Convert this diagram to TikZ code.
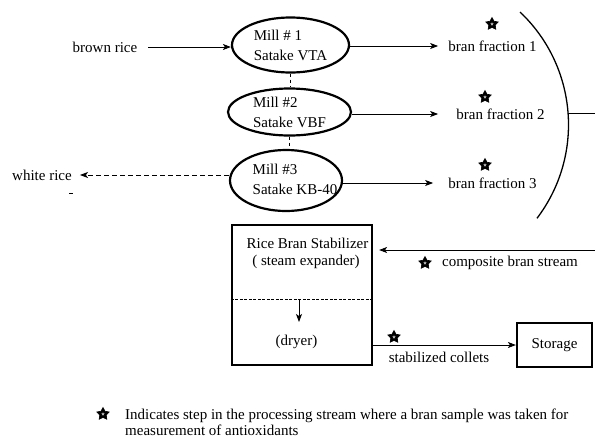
\documentclass[tikz,border=0pt]{standalone}
\usepackage{fontspec}
\setmainfont{Liberation Serif}
\usetikzlibrary{shapes.geometric,arrows.meta}
\begin{document}
\begin{tikzpicture}[x=1pt,y=-1pt,font=\fontsize{15}{20}\selectfont,
  mill/.style={draw, ellipse, line width=2.2pt, inner sep=0pt, align=left},
  lbl/.style={inner sep=0pt},
  arr/.style={line width=0.9pt, -{Stealth[length=8pt,width=6pt,inset=2pt]}},
  boxy/.style={draw, line width=2.2pt, rectangle, inner sep=0pt},
  starmark/.style={star, star points=5, star point ratio=1.9, draw=black, line width=0.6pt, fill=black, inner sep=0pt, minimum size=13pt},
  starhole/.style={star, star points=5, star point ratio=1.9, fill=gray!60, inner sep=0pt, minimum size=3.5pt},
  starpic/.pic={\node[starmark] (-o) {}; \node[starhole] (-i) {};}]
\useasboundingbox (0,0) rectangle (595,440);

% mills
\node[mill, minimum width=117pt, minimum height=55pt] (m1) at (290.5,45) {Mill \# 1\\Satake VTA};
\node[mill, minimum width=123pt, minimum height=47pt] (m2) at (289.5,112) {Mill \#2\\Satake VBF};
\node[mill, minimum width=112pt, minimum height=61pt] (m3) at (286,180.5) {};
\node[lbl, align=left] (t3) at (295,179.5) {Mill \#3\\Satake KB-40};

\draw[dashed, line width=0.8pt] (m1.south) -- (m1.south |- m2.north);
\draw[dashed, line width=0.8pt] (m2.south) -- (m2.south |- m3.north);

% inputs / outputs
\node[lbl] (br) at (105,47) {brown rice};
\draw[arr, shorten <=11pt] (br.east) -- (m1.west |- br);
\node[lbl] (wr) at (42,175) {white rice};
\draw[arr, dash pattern=on 5pt off 3pt, shorten >=8pt] (m3.west |- wr) -- (wr.east);
\draw[line width=0.8pt] (69,193) -- (73,193);

% bran fractions
\node[lbl] (bf1) at (492.5,46) {bran fraction 1};
\node[lbl] (bf2) at (500.5,114) {bran fraction 2};
\node[lbl] (bf3) at (492.5,183) {bran fraction 3};
\draw[arr, shorten >=10pt] (m1.east |- bf1) -- (bf1.west);
\draw[arr, shorten >=18pt] (m2.east |- bf2) -- (bf2.west);
\draw[arr, shorten >=15pt] (m3.east |- bf3) -- (bf3.west);
\pic (s1) at (492,24) {starpic};
\pic (s2) at (485,97) {starpic};
\pic (s3) at (485,165) {starpic};

% collecting arc
\coordinate (arcA) at (520,12);
\draw[line width=1.3pt] (arcA) arc[start angle=46.6, end angle=-37.2, radius=155pt];
\coordinate (arcR) at (568,113);
\coordinate (e1) at (595,113);
\draw[line width=0.9pt] (arcR) -- (e1);

% stabilizer
\node[boxy, minimum width=140pt, minimum height=140pt] (stab) at (302,295) {};
\node[lbl] (rbs) at (307.5,243) {Rice Bran Stabilizer};
\node[lbl] (se) at (306,262) {( steam expander)};
\draw[dash pattern=on 3pt off 1.5pt, line width=0.8pt] ([yshift=-4pt]stab.west) -- ([yshift=-4pt]stab.east);
\coordinate (da) at (299,299);
\coordinate (db) at (299,322);
\draw[arr] (da) -- (db);
\node[lbl] (dryer) at (296.5,342) {(dryer)};

% composite stream
\coordinate (e2) at (595,250);
\draw[arr, shorten >=6pt] (e2) -- (stab.east |- e2);
\node[lbl] (cbs) at (510,263) {composite bran stream};
\pic (s4) at (425,263) {starpic};

% storage
\node[boxy, minimum width=75pt, minimum height=44pt] (stor) at (554.5,345) {Storage};
\draw[arr] (stab.east |- stor) -- (stor.west);
\node[lbl] (sc) at (439,357) {stabilized collets};
\pic (s5) at (394,337) {starpic};

% legend
\pic (s6) at (103,414) {starpic};
\node[lbl, anchor=base west] (leg1) at (125,419) {Indicates step in the processing stream where a bran sample was taken for};
\node[lbl, anchor=base west] (leg2) at (125,435) {measurement of antioxidants};
\end{tikzpicture}
\end{document}
